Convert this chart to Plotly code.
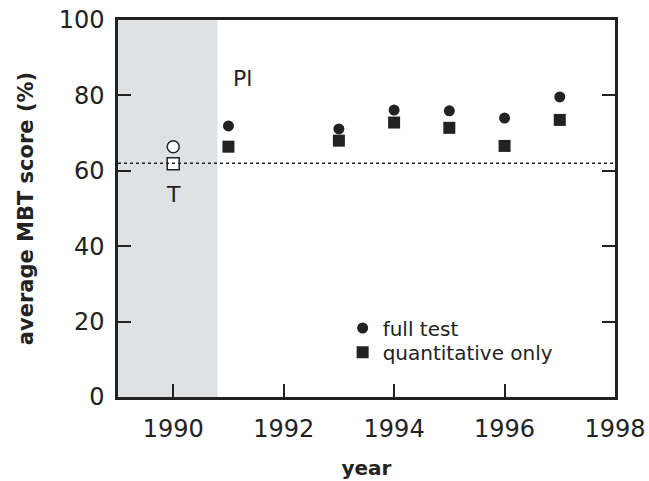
import plotly.graph_objects as go

years = [1991, 1993, 1994, 1995, 1996, 1997]
full_test = [71.9, 71.1, 76.1, 75.9, 74.0, 79.6]
quant_only = [66.4, 68.0, 72.8, 71.4, 66.6, 73.5]

trad_year = [1990]
trad_full = [66.4]
trad_quant = [61.9]

threshold = 62.0
shade_x0 = 1989
shade_x1 = 1990.8

label_text = ["Pl", "T"]
label_x = [1991.25, 1990]
label_y = [84.6, 53.6]

ink = "#222222"
font_family = "DejaVu Sans"

fig = go.Figure()

fig.add_vrect(x0=shade_x0, x1=shade_x1, fillcolor="#e0e1e3", line_width=0, layer="below")
fig.add_hline(y=threshold, line=dict(color=ink, width=1.5, dash="dot"))

fig.add_trace(go.Scatter(
    x=years, y=full_test, mode="markers", name="full test", legend="legend",
    marker=dict(symbol="circle", size=11, color=ink)))
fig.add_trace(go.Scatter(
    x=years, y=quant_only, mode="markers", name="quantitative only", legend="legend2",
    marker=dict(symbol="square", size=12, color=ink)))
fig.add_trace(go.Scatter(
    x=trad_year, y=trad_full, mode="markers", showlegend=False,
    marker=dict(symbol="circle", size=12, color="white", line=dict(color=ink, width=1.5))))
fig.add_trace(go.Scatter(
    x=trad_year, y=trad_quant, mode="markers", showlegend=False,
    marker=dict(symbol="square", size=12, color="white", line=dict(color=ink, width=1.5))))

for t, x, y in zip(label_text, label_x, label_y):
    fig.add_annotation(x=x, y=y, text=t, showarrow=False,
                       font=dict(size=22, color=ink, family=font_family))

leg_common = dict(xanchor="left", yanchor="middle", bgcolor="rgba(0,0,0,0)",
                  font=dict(size=20, color=ink, family=font_family), itemwidth=30)
fig.update_layout(
    width=649, height=481,
    margin=dict(l=118, r=34, t=20, b=84, autoexpand=False),
    paper_bgcolor="white", plot_bgcolor="white",
    font=dict(family=font_family, size=24, color=ink),
    showlegend=True,
    legend=dict(x=0.452, y=0.183, **leg_common),
    legend2=dict(x=0.452, y=0.119, **leg_common),
)
fig.update_xaxes(
    range=[1989, 1998], tickvals=[1990, 1992, 1994, 1996, 1998],
    ticks="inside", ticklen=13, tickwidth=2, tickcolor=ink,
    showline=True, linewidth=2.5, linecolor=ink, mirror=True,
    showgrid=False, zeroline=False, ticklabelstandoff=8, automargin=False,
    ticklabeloverflow="allow",
    title=dict(text="<b>year</b>", font=dict(size=20), standoff=20),
)
fig.update_yaxes(
    range=[0, 100], tickvals=[0, 20, 40, 60, 80, 100],
    ticks="inside", ticklen=13, tickwidth=2, tickcolor=ink,
    showline=True, linewidth=2.5, linecolor=ink, mirror="ticks",
    showgrid=False, zeroline=False, ticklabelstandoff=6, automargin=False,
    ticklabeloverflow="allow",
    title=dict(text="<b>average MBT score (%)</b>", font=dict(size=21), standoff=20),
)

fig.write_html(
    "out.html",
    config={"displayModeBar": False},
    post_script="document.body.style.margin='0';document.body.style.overflow='hidden';",
)
